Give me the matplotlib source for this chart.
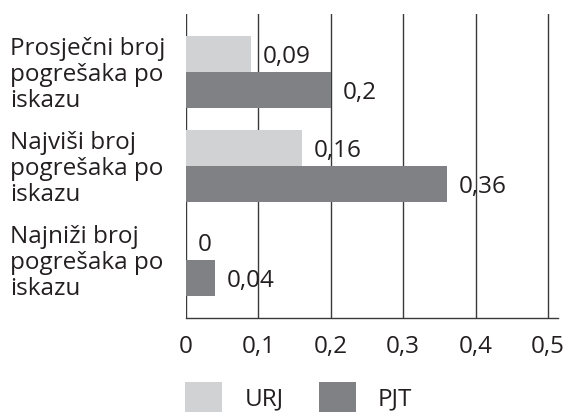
import matplotlib
matplotlib.use('Agg')
import matplotlib.pyplot as plt
from matplotlib.patches import Rectangle
from matplotlib.transforms import blended_transform_factory

plt.rcParams['font.family'] = ['Open Sans', 'DejaVu Sans']

categories = ['Prosječni broj\npogrešaka po\niskazu',
              'Najviši broj\npogrešaka po\niskazu',
              'Najniži broj\npogrešaka po\niskazu']
urj = [0.09, 0.16, 0.0]
pjt = [0.2, 0.36, 0.04]
series_names = ['URJ', 'PJT']
xticks = [0, 0.1, 0.2, 0.3, 0.4, 0.5]

c_urj = '#d1d2d4'
c_pjt = '#808184'
c_txt = '#231f20'
fs = 17.5

def fmt(v):
    return ('%g' % v).replace('.', ',')

fig = plt.figure(figsize=(5.65, 4.12), dpi=100)
ax = fig.add_axes([186 / 565, 94 / 412, 372 / 565, 304 / 412])

h = 36 / 94
pos = list(range(len(categories)))
ax.barh([p - h / 2 for p in pos], urj, height=h, color=c_urj, zorder=1)
ax.barh([p + h / 2 for p in pos], pjt, height=h, color=c_pjt, zorder=1)

for p, u, q in zip(pos, urj, pjt):
    ax.annotate(fmt(u), (u, p - h / 2), xytext=(8.6, -2), textcoords='offset points',
                ha='left', va='center', fontsize=fs, color=c_txt, zorder=3)
    ax.annotate(fmt(q), (q, p + h / 2), xytext=(8.6, -2), textcoords='offset points',
                ha='left', va='center', fontsize=fs, color=c_txt, zorder=3)

ax.set_xlim(0, 372 / 724)
ax.set_ylim(2 + 58 / 94, -58 / 94)
ax.set_xticks(xticks)
ax.set_xticklabels([fmt(t) for t in xticks], fontsize=fs, color=c_txt)
ax.tick_params(axis='x', length=0, pad=12)
ax.set_yticks([])
ax.grid(axis='x', color='#3a3a3a', linewidth=1, zorder=0)
ax.set_axisbelow(True)
for s in ['top', 'right', 'left']:
    ax.spines[s].set_visible(False)
ax.spines['bottom'].set_color('#3a3a3a')
ax.spines['bottom'].set_linewidth(1)

# category labels on the left
trans = blended_transform_factory(fig.transFigure, ax.transData)
for p, lab in zip(pos, categories):
    ax.text(10 / 565, p + 0.03, lab, transform=trans,
            ha='left', va='center', fontsize=fs, linespacing=1.1, color=c_txt)

# legend drawn manually
for x0, name, col, tx in [(185, series_names[0], c_urj, 245), (319, series_names[1], c_pjt, 378)]:
    fig.add_artist(Rectangle((x0 / 565, (412 - 382 - 37) / 412), 37 / 565, 37 / 412,
                             transform=fig.transFigure, color=col, linewidth=0))
    fig.text(tx / 565, (412 - 399) / 412, name, ha='left', va='center', fontsize=fs, color=c_txt)

plt.savefig('out.png', dpi=100)
plt.close()
